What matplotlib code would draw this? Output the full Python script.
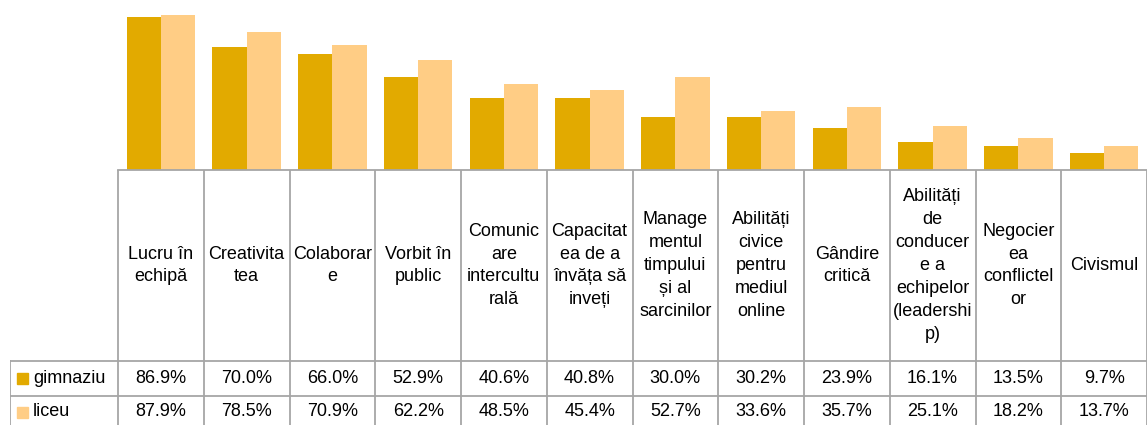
import matplotlib.pyplot as plt

# data
categories = [
    "Lucru în\nechipă",
    "Creativita\ntea",
    "Colaborar\ne",
    "Vorbit în\npublic",
    "Comunic\nare\nintercultu\nrală",
    "Capacitat\nea de a\nînvăța să\ninveți",
    "Manage\nmentul\ntimpului\nși al\nsarcinilor",
    "Abilități\ncivice\npentru\nmediul\nonline",
    "Gândire\ncritică",
    "Abilități\nde\nconducer\ne a\nechipelor\n(leadershi\np)",
    "Negocier\nea\nconflictel\nor",
    "Civismul",
]
gimnaziu = [86.9, 70.0, 66.0, 52.9, 40.6, 40.8, 30.0, 30.2, 23.9, 16.1, 13.5, 9.7]
liceu = [87.9, 78.5, 70.9, 62.2, 48.5, 45.4, 52.7, 33.6, 35.7, 25.1, 18.2, 13.7]
series_names = ["gimnaziu", "liceu"]

C_GIM = "#E2AA00"
C_LIC = "#FFCD85"
GRID = "#A6A6A6"

plt.rcParams['font.family'] = ['Liberation Sans', 'DejaVu Sans']

W, H = 1147, 425
fig = plt.figure(figsize=(W / 100, H / 100), dpi=100)

# bar area: pixels x 118..1147, y 0..170 (from top)
ax = fig.add_axes([118 / W, (H - 170) / H, (W - 118) / W, 170 / H])
n = len(categories)
xs = list(range(n))
bw = 0.4
ax.bar([x - bw / 2 for x in xs], gimnaziu, width=bw, color=C_GIM)
ax.bar([x + bw / 2 for x in xs], liceu, width=bw, color=C_LIC)
ax.set_xlim(-0.5, n - 0.5)
ax.set_ylim(0, 96.4)
ax.axis("off")

# data table below, in a second axes sharing the category scale
cat_px = (W - 118) / n
left_units = (118 - 10) / cat_px
tab = fig.add_axes([10 / W, 0, (W - 10) / W, (H - 170) / H])
tab.set_xlim(-0.5 - left_units, n - 0.5)
tab.set_ylim(0, 255)
tab.axis("off")

y_top, y_head, y_row1 = 255, 64, 29
lw = 1.3
x0 = -0.5 - left_units
tab.plot([-0.5, n - 0.5], [y_top, y_top], color=GRID, lw=lw, clip_on=False)
tab.plot([x0, n - 0.5], [y_head, y_head], color=GRID, lw=lw)
tab.plot([x0, n - 0.5], [y_row1, y_row1], color=GRID, lw=lw)
tab.plot([x0, x0], [0, y_head], color=GRID, lw=lw)
for k in range(n + 1):
    tab.plot([k - 0.5, k - 0.5], [0, y_top], color=GRID, lw=lw)

fs = 13
for i, lab in enumerate(categories):
    tab.text(i, (y_top + y_head) / 2, lab, ha="center", va="center",
             fontsize=fs, linespacing=1.45)
    tab.text(i, (y_head + y_row1) / 2, f"{gimnaziu[i]:.1f}%", ha="center",
             va="center", fontsize=fs)
    tab.text(i, 13, f"{liceu[i]:.1f}%", ha="center", va="center", fontsize=fs)

# row headers with legend keys
row_y = [(y_head + y_row1) / 2, 13]
for name, col, yy in zip(series_names, [C_GIM, C_LIC], row_y):
    tab.add_patch(plt.Rectangle((x0 + 0.08, yy - 5.5), 0.13, 11, color=col))
    tab.text(x0 + 0.27, yy, name, ha="left", va="center", fontsize=fs)

fig.savefig("out.png", dpi=100)
